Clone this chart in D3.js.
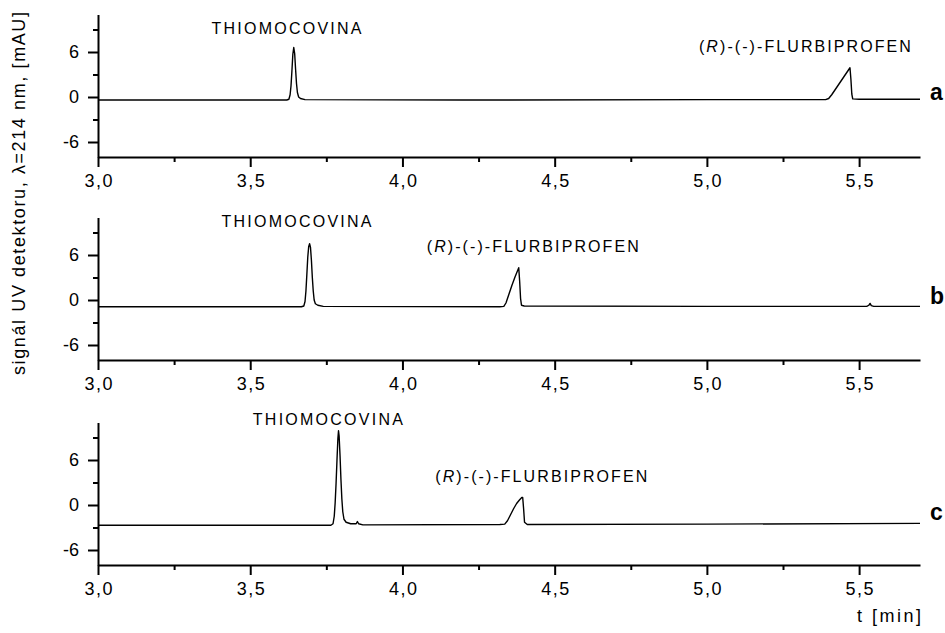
<!DOCTYPE html>
<html><head><meta charset="utf-8">
<script src="https://cdn.jsdelivr.net/npm/d3@7"></script>
<style>
body{margin:0;background:#fff;}
text{font-family:Arial,"Liberation Sans",sans-serif;fill:#000;}
</style></head>
<body><svg id="c" width="945" height="633"></svg>
<script>
// ---- data ----
const xMajorTicks = [3.0, 3.5, 4.0, 4.5, 5.0, 5.5];
const xTickLabels = ["3,0", "3,5", "4,0", "4,5", "5,0", "5,5"];
const xMinorTicks = [3.25, 3.75, 4.25, 4.75, 5.25];
const yMajorTicks = [-6, 0, 6];
const yTickLabels = ["-6", "0", "6"];
const yMinorTicks = [-3, 3, 9];
const xDomain = [3.0, 5.7];
const yDomain = [-8, 11];
const panelNames = ["a", "b", "c"];
const compoundNames = ["THIOMOCOVINA", "FLURBIPROFEN"];

// trace a : [time (min), signal (mAU)]
const traceA = [
  [3.000,-0.40],[3.300,-0.40],[3.620,-0.40],[3.627,-0.30],[3.631,0.30],[3.634,1.50],[3.637,3.50],
  [3.640,5.70],[3.643,6.60],[3.646,5.80],[3.649,3.70],[3.652,1.80],[3.655,0.60],[3.659,0.00],
  [3.665,-0.20],[3.680,-0.35],[4.200,-0.40],[5.000,-0.35],[5.390,-0.35],[5.400,-0.20],[5.410,0.30],
  [5.430,1.50],[5.450,2.70],[5.465,3.60],[5.470,3.90],[5.473,2.40],[5.476,0.40],[5.479,-0.25],
  [5.500,-0.30],[5.700,-0.30]
];
// trace b
const traceB = [
  [3.000,-0.90],[3.400,-0.90],[3.668,-0.90],[3.676,-0.80],[3.680,-0.20],[3.683,1.20],[3.686,3.40],
  [3.689,5.70],[3.692,7.10],[3.695,7.50],[3.698,7.00],[3.701,5.30],[3.704,3.00],[3.707,1.20],
  [3.710,0.00],[3.714,-0.50],[3.722,-0.70],[3.740,-0.85],[4.320,-0.90],[4.333,-0.85],[4.340,-0.40],
  [4.350,0.80],[4.360,2.00],[4.370,3.10],[4.378,3.90],[4.382,4.30],[4.385,2.50],[4.388,0.20],
  [4.391,-0.70],[4.400,-0.80],[5.000,-0.85],[5.525,-0.85],[5.532,-0.70],[5.536,-0.45],[5.540,-0.75],
  [5.548,-0.85],[5.700,-0.85]
];
// trace c
const traceC = [
  [3.000,-2.70],[3.400,-2.70],[3.765,-2.70],[3.772,-2.50],[3.776,-1.50],[3.779,0.30],[3.782,2.90],
  [3.785,6.00],[3.788,8.90],[3.790,9.90],[3.792,9.20],[3.795,6.60],[3.798,3.40],[3.801,0.80],
  [3.804,-0.90],[3.808,-1.90],[3.815,-2.30],[3.830,-2.50],[3.848,-2.50],[3.852,-2.20],[3.856,-2.50],
  [3.870,-2.65],[4.320,-2.60],[4.336,-2.55],[4.345,-2.10],[4.355,-1.30],[4.365,-0.50],[4.375,0.20],
  [4.385,0.70],[4.392,1.00],[4.395,1.00],[4.398,-0.50],[4.401,-2.30],[4.410,-2.60],[5.000,-2.55],
  [5.700,-2.45]
];
const traces = [traceA, traceB, traceC];
// annotation anchors (time, signal) per panel
const thioLabelPos = [[3.619, 8.4], [3.652, 9.7], [3.755, 10.7]];
const flurbLabelPos = [[5.322, 6.0], [4.428, 6.4], [4.456, 3.1]];
const panelLetterPos = [-0.4, -0.55, -2.0];

// ---- layout ----
const svg = d3.select("#c");
const x = d3.scaleLinear().domain(xDomain).range([98, 920]);
const panelBottoms = [157, 360, 565];
const panelHeight = 142.5;

panelBottoms.forEach((bottom, i) => {
  const y = d3.scaleLinear().domain(yDomain).range([bottom, bottom - panelHeight]);
  const g = svg.append("g");

  const gx = g.append("g").attr("transform", `translate(0,${bottom})`);
  gx.call(d3.axisBottom(x).tickValues(xMajorTicks).tickSize(10).tickSizeOuter(0).tickPadding(7)
      .tickFormat((d, k) => xTickLabels[k]));
  gx.append("g").call(d3.axisBottom(x).tickValues(xMinorTicks).tickSize(5).tickSizeOuter(0).tickFormat(""))
    .select(".domain").remove();
  const gy = g.append("g").attr("transform", `translate(98,0)`);
  gy.call(d3.axisLeft(y).tickValues(yMajorTicks).tickSize(10).tickSizeOuter(0).tickPadding(9)
      .tickFormat((d, k) => yTickLabels[k]));
  gy.append("g").call(d3.axisLeft(y).tickValues(yMinorTicks).tickSize(5).tickSizeOuter(0).tickFormat(""))
    .select(".domain").remove();

  g.selectAll(".domain").attr("stroke", "#000").attr("stroke-width", 2);
  g.selectAll(".tick line").attr("stroke", "#000").attr("stroke-width", 2);
  g.selectAll(".tick text").attr("font-size", 18).attr("font-family", "Arial, 'Liberation Sans', sans-serif")
    .attr("fill", "#000");
  gx.selectAll(".tick text").attr("letter-spacing", "1.5px").attr("dx", "0.75px");

  g.append("path").datum(traces[i])
    .attr("fill", "none").attr("stroke", "#000").attr("stroke-width", 1.4)
    .attr("stroke-linejoin", "round")
    .attr("d", d3.line().x(d => x(d[0])).y(d => y(d[1])));

  const tw = 150;
  g.append("text").attr("x", x(thioLabelPos[i][0]) - tw / 2).attr("y", y(thioLabelPos[i][1]))
    .attr("font-size", 16).attr("textLength", tw).attr("lengthAdjust", "spacing")
    .text(compoundNames[0]);
  const fw = 212;
  const ft = g.append("text").attr("x", x(flurbLabelPos[i][0]) - fw / 2).attr("y", y(flurbLabelPos[i][1]))
    .attr("font-size", 16).attr("textLength", fw).attr("lengthAdjust", "spacing");
  ft.append("tspan").text("(");
  ft.append("tspan").attr("font-style", "italic").text("R");
  ft.append("tspan").text(")-(-)-" + compoundNames[1]);

  g.append("text").attr("x", 930).attr("y", y(panelLetterPos[i]))
    .attr("font-size", 23).attr("font-weight", "bold").text(panelNames[i]);
});

svg.append("text").attr("transform", "translate(25,193.5) rotate(-90)")
  .attr("x", -181.5).attr("font-size", 18)
  .attr("textLength", 363).attr("lengthAdjust", "spacing")
  .text("signál UV detektoru, λ=214 nm, [mAU]");
svg.append("text").attr("x", 857).attr("y", 622).attr("font-size", 18)
  .attr("textLength", 64).attr("lengthAdjust", "spacing").text("t [min]");
</script></body></html>
